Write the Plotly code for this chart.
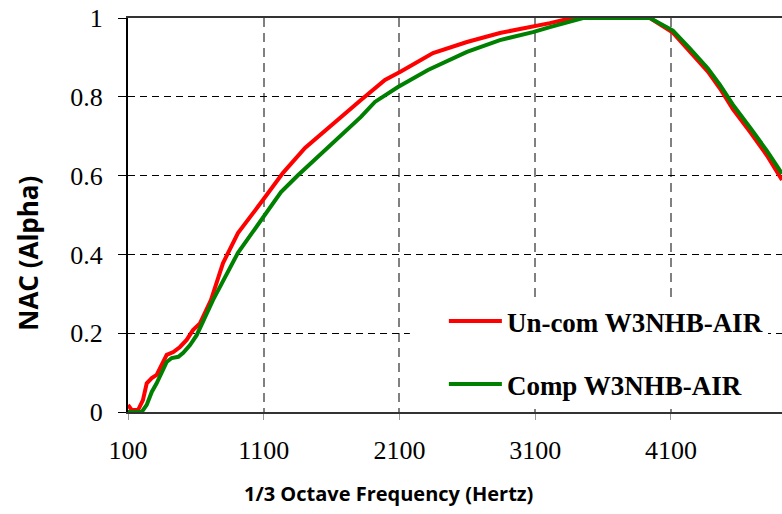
import plotly.graph_objects as go

# Normalised absorption coefficient vs 1/3 octave frequency
freq_uncom = [100, 127, 174, 210, 238, 275, 311, 348, 385, 434, 483, 532, 579, 630,
              711, 800, 910, 1094, 1242, 1404, 1573, 1816, 1993, 2110, 2347, 2597,
              2840, 3083, 3208, 3370, 3945, 4114, 4240, 4372, 4461, 4556, 4682,
              4807, 4918]
nac_uncom = [0.018, 0.005, 0.005, 0.03, 0.073, 0.086, 0.094, 0.12, 0.145, 0.152, 0.165,
             0.183, 0.208, 0.225, 0.284, 0.378, 0.454, 0.538, 0.607, 0.670, 0.721,
             0.792, 0.843, 0.864, 0.911, 0.939, 0.962, 0.977, 0.987, 1.0, 1.0, 0.963,
             0.915, 0.864, 0.821, 0.769, 0.711, 0.651, 0.589]

freq_comp = [100, 201, 238, 275, 311, 348, 385, 422, 471, 507, 557, 606, 726, 910,
             1094, 1227, 1352, 1573, 1816, 1919, 2089, 2310, 2597, 2840, 3083, 3208,
             3452, 3945, 4114, 4240, 4372, 4461, 4556, 4682, 4807, 4918]
nac_comp = [0.0, 0.0, 0.018, 0.051, 0.073, 0.099, 0.127, 0.137, 0.140, 0.15, 0.170,
            0.195, 0.284, 0.404, 0.495, 0.558, 0.601, 0.673, 0.749, 0.787, 0.825,
            0.868, 0.914, 0.944, 0.964, 0.977, 1.0, 1.0, 0.968, 0.922, 0.872, 0.83,
            0.78, 0.722, 0.663, 0.605]

x_ticks = [100, 1100, 2100, 3100, 4100]
y_ticks = [0, 0.2, 0.4, 0.6, 0.8, 1]
y_tick_text = ["0", "0.2", "0.4", "0.6", "0.8", "1"]

serif = "Palatino Linotype, Book Antiqua, Liberation Serif, serif"
rounded = "Comic Sans MS, Open Sans, sans-serif"

fig = go.Figure()
fig.add_trace(go.Scatter(x=freq_uncom, y=nac_uncom, mode="lines",
                         name="Un-com W3NHB-AIR", legendgroup="a",
                         line=dict(color="#ff0000", width=4)))
fig.add_trace(go.Scatter(x=freq_comp, y=nac_comp, mode="lines",
                         name="Comp W3NHB-AIR", legendgroup="b",
                         line=dict(color="#008000", width=4)))

fig.update_layout(
    width=782, height=514,
    margin=dict(l=128, r=0, t=18, b=102),
    plot_bgcolor="white", paper_bgcolor="white",
    showlegend=True,
    legend=dict(x=0.483, y=0.292, xanchor="left", yanchor="top",
                bgcolor="white", borderwidth=0,
                font=dict(family=serif, size=27, color="black", weight="bold"),
                tracegroupgap=25, itemwidth=53),
    # white backing to the left of the legend box, hiding the grid there
    shapes=[dict(type="rect", xref="paper", yref="paper", layer="above",
                 x0=0.431, x1=0.485, y0=0.005, y1=0.292,
                 fillcolor="white", line=dict(width=0))],
    annotations=[
        dict(text="NAC (Alpha)", xref="paper", yref="paper", x=-0.153, y=0.404,
             xanchor="center", yanchor="middle",
             textangle=-90, showarrow=False,
             font=dict(family=rounded, size=26, color="black", weight="bold")),
        dict(text="1/3 Octave Frequency (Hertz)", xref="paper", yref="paper",
             x=0.3976, y=-0.208, xanchor="center", yanchor="middle",
             showarrow=False,
             font=dict(family=rounded, size=20, color="black", weight="bold")),
    ],
)

fig.update_xaxes(
    range=[100, 4918], tickvals=x_ticks, ticktext=[str(v) for v in x_ticks],
    showgrid=True, gridcolor="#808080", gridwidth=2, griddash="9px,6px",
    showline=True, linecolor="#333333", linewidth=2, mirror=True,
    ticks="outside", ticklen=6, tickcolor="#999999", tickwidth=1,
    ticklabelstandoff=8,
    tickfont=dict(family=serif, size=26, color="black"),
    zeroline=False,
)
fig.update_yaxes(
    range=[0, 1], tickvals=y_ticks, ticktext=y_tick_text,
    showgrid=True, gridcolor="black", gridwidth=1, griddash="7px,5px",
    showline=True, linecolor="black", linewidth=2,
    ticks="outside", ticklen=8, tickcolor="black", tickwidth=1,
    ticklabelstandoff=10,
    tickfont=dict(family=serif, size=26, color="black"),
    zeroline=False,
)

fig.write_html("out.html")
